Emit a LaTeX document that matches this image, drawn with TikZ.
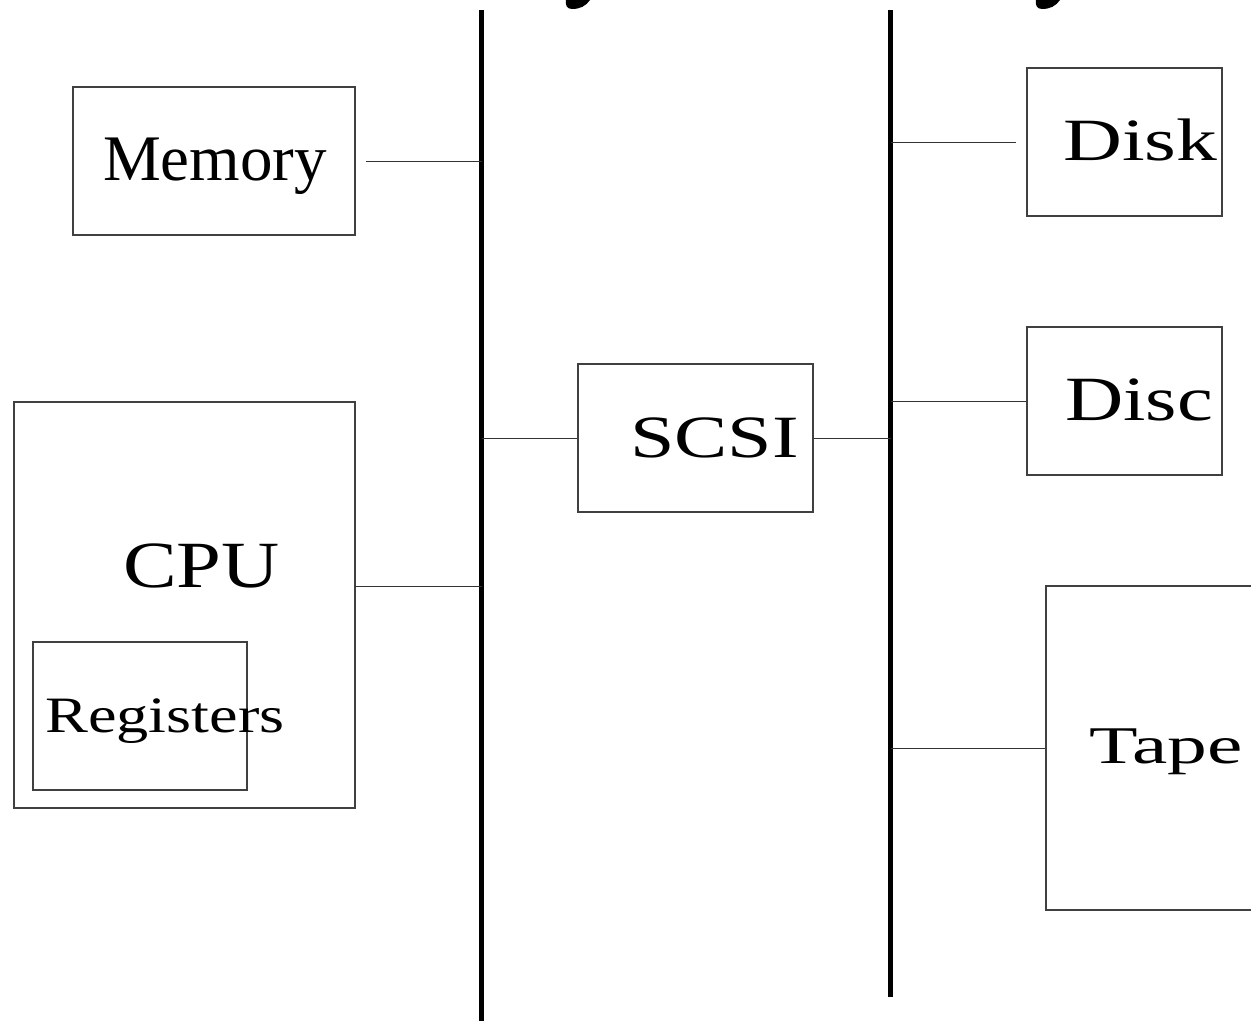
\documentclass[tikz,border=0pt]{standalone}
\usepackage{fontspec}
\setmainfont{Liberation Serif}
\begin{document}
\begin{tikzpicture}[x=1pt,y=-1pt,
  box/.style={draw=black!75,line width=1.2pt,rectangle,inner sep=0pt},
  wire/.style={draw=black!80,line width=1pt},
  bus/.style={draw=black,line width=5pt},
  lbl/.style={inner sep=0pt,anchor=base west}]
\clip (0,0) rectangle (1251,1021);
\fill[white] (0,0) rectangle (1251,1021);

% descender tails of the clipped headings above the buses
\fill (566,0) -- (590,0) .. controls (586,6) and (580,9) .. (572,9)
      .. controls (567,9) and (565,5) .. (566,0) -- cycle;
\fill (1036,0) -- (1060,0) .. controls (1056,6) and (1050,9) .. (1042,9)
      .. controls (1037,9) and (1035,5) .. (1036,0) -- cycle;

% buses
\coordinate (busAtop) at (481.5,10);
\coordinate (busAbot) at (481.5,1021);
\coordinate (busBtop) at (890.5,10);
\coordinate (busBbot) at (890.5,997);
\draw[bus] (busAtop) -- (busAbot);
\draw[bus] (busBtop) -- (busBbot);

% boxes
\node[box,minimum width=282pt,minimum height=148pt] (mem) at (214,161) {};
\node[box,minimum width=341pt,minimum height=406pt] (cpu) at (184.5,605) {};
\node[box,minimum width=214pt,minimum height=148pt] (reg) at (140,716) {};
\node[box,minimum width=235pt,minimum height=148pt] (scsi) at (695.5,438) {};
\node[box,minimum width=195pt,minimum height=148pt] (disk) at (1124.5,142) {};
\node[box,minimum width=195pt,minimum height=148pt] (disc) at (1124.5,401) {};
\node[box,minimum width=260pt,minimum height=324pt] (tape) at (1176,748) {};

% labels
\node[lbl,font=\fontsize{65}{65}\selectfont] (tmem) at (103,180) {Memory};
\node[lbl,font=\fontsize{66}{66}\selectfont,xscale=1.22] (tcpu) at (123,587) {CPU};
\node[lbl,font=\fontsize{51}{51}\selectfont,xscale=1.26] (treg) at (45,732) {Registers};
\node[lbl,font=\fontsize{60}{60}\selectfont,xscale=1.33] (tscsi) at (630,457) {SCSI};
\node[lbl,font=\fontsize{60}{60}\selectfont,xscale=1.36] (tdisk) at (1063,160) {Disk};
\node[lbl,font=\fontsize{63}{63}\selectfont,xscale=1.28] (tdisc) at (1065,420) {Disc};
\node[lbl,font=\fontsize{53}{53}\selectfont,xscale=1.5] (ttape) at (1089,763) {Tape};

% connectors
\coordinate (cpuport) at (355,586);
\draw[wire] ([xshift=10pt]mem.east) -- (mem.east -| busAtop);
\draw[wire] (cpuport) -- (cpuport -| busAtop);
\draw[wire] (scsi.west -| busAtop) -- (scsi.west);
\draw[wire] (scsi.east) -- (scsi.east -| busBtop);
\draw[wire] (disk.west -| busBtop) -- ([xshift=-10pt]disk.west);
\draw[wire] (disc.west -| busBtop) -- (disc.west);
\draw[wire] (tape.west -| busBtop) -- (tape.west);
\end{tikzpicture}
\end{document}
